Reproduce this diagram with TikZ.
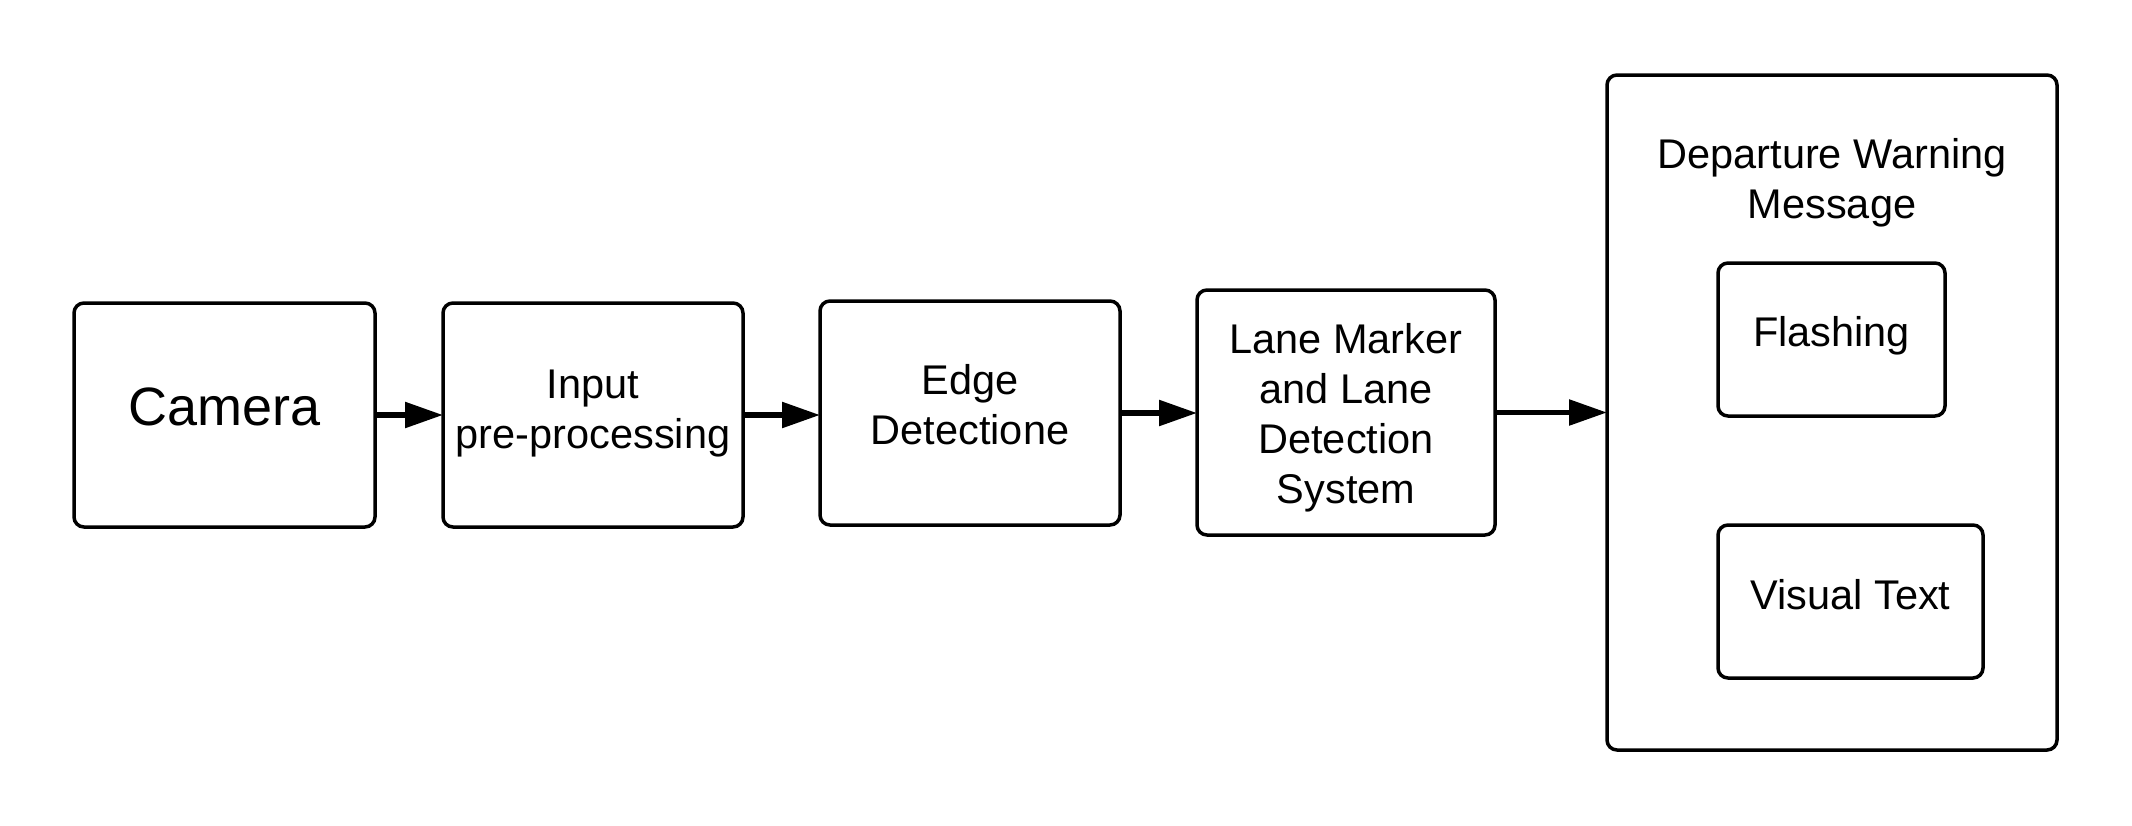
\documentclass[tikz,border=0pt]{standalone}
\usepackage{fontspec}
\setmainfont{Liberation Sans}
\usetikzlibrary{arrows.meta}
\begin{document}
\begin{tikzpicture}[x=1pt,y=-1pt,
  box/.style={draw=black, line width=3.5pt, rounded corners=10pt, fill=white,
    inner sep=0pt, outer sep=0pt},
  txt/.style={align=center, inner sep=0pt, font=\fontsize{41.5}{50}\selectfont},
  conn/.style={line width=5.5pt, -{Triangle[length=38pt,width=25pt]}}
]
\useasboundingbox (0,0) rectangle (2132,825);
\fill[white] (0,0) rectangle (2132,825);

\node[box, minimum width=301pt, minimum height=224pt] (cam) at (224.5,415) {};
\node[box, minimum width=300pt, minimum height=224pt] (inp) at (593,415) {};
\node[box, minimum width=300pt, minimum height=224pt] (edge) at (970,413) {};
\node[box, minimum width=298pt, minimum height=245pt] (lane) at (1346,412.5) {};
\node[box, minimum width=450pt, minimum height=675pt] (dep) at (1832,412.5) {};
\node[box, minimum width=227pt, minimum height=153pt] (flash) at (1831.5,339.5) {};
\node[box, minimum width=265pt, minimum height=153pt] (vis) at (1850.5,601.5) {};

\node[txt, font=\fontsize{54}{60}\selectfont] (camt) at ([yshift=8pt]cam.center) {Camera};
\node[txt] (inpt) at ([yshift=1.5pt]inp.center) {Input\\pre-processing};
\node[txt] (edget) at ([yshift=8pt]edge.center) {Edge\\Detectione};
\node[txt] (lanet) at ([yshift=-5.5pt]lane.center) {Lane Marker\\and Lane\\Detection\\System};
\node[txt] (title) at (1832,183) {Departure Warning\\Message};
\node[txt] (flasht) at ([yshift=4pt]flash.center) {Flashing};
\node[txt] (vist) at ([yshift=7pt]vis.center) {Visual Text};

\draw[conn] (cam.east) -- (cam.east -| inp.west);
\draw[conn] (inp.east) -- (inp.east -| edge.west);
\draw[conn] (edge.east) -- (edge.east -| lane.west);
\draw[conn] (lane.east) -- (lane.east -| dep.west);
\end{tikzpicture}
\end{document}
